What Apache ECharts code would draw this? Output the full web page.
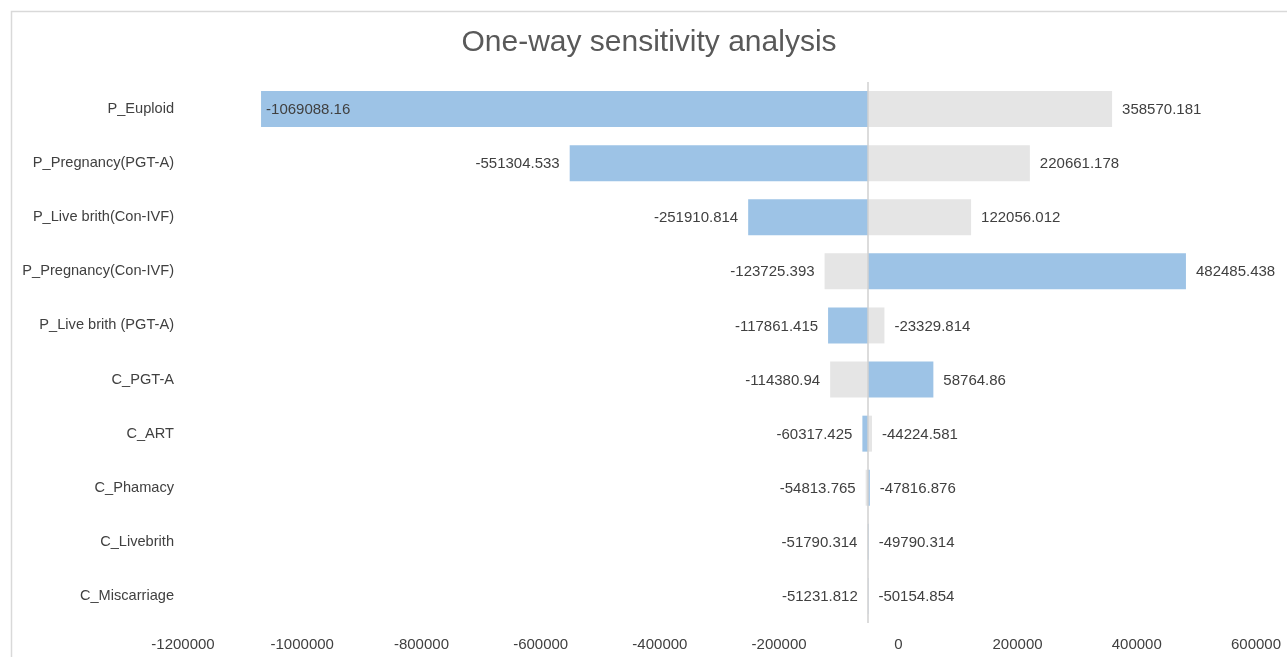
<!DOCTYPE html>
<html>
<head>
<meta charset="utf-8">
<script src="https://cdn.jsdelivr.net/npm/echarts@6/dist/echarts.min.js"></script>
<style>
  html, body { margin: 0; padding: 0; background: #fff; }
  #chart { width: 1287px; height: 657px; }
</style>
</head>
<body>
<div id="chart"></div>
<script>
// Parameters, top to bottom
const categories = [
  "P_Euploid",
  "P_Pregnancy(PGT-A)",
  "P_Live brith(Con-IVF)",
  "P_Pregnancy(Con-IVF)",
  "P_Live brith (PGT-A)",
  "C_PGT-A",
  "C_ART",
  "C_Phamacy",
  "C_Livebrith",
  "C_Miscarriage",
];
// Blue series and grey series (ICER at each end of the range)
const blueValues = [-1069088.16, -551304.533, -251910.814, 482485.438, -117861.415, 58764.86, -60317.425, -47816.876, -49790.314, -50154.854];
const greyValues = [358570.181, 220661.178, 122056.012, -123725.393, -23329.814, -114380.94, -44224.581, -54813.765, -51790.314, -51231.812];
const baseValue = -50790;
const axisMin = -1200000;
const axisMax = 600000;

const textColor = "#404040";
const fontFamily = "'Liberation Sans', Arial, Helvetica, sans-serif";
const fontSize = 15;

function makeRender(color) {
  return function (params, api) {
    let cat = api.value(0);
    let val = api.value(1);
    let p0 = api.coord([baseValue, cat]);
    let p1 = api.coord([val, cat]);
    let h = api.size([0, 1])[1] * 0.665;
    let left = val < baseValue;
    let label = String(val);
    let textW = label.length * 8.4;
    let minX = api.coord([axisMin, cat])[0];
    let tx, align;
    if (left) {
      if (p1[0] - 10 - textW < minX) {
        // not enough room, put it inside the bar
        tx = p1[0] + 5;
        align = "left";
      } else {
        tx = p1[0] - 10;
        align = "right";
      }
    } else {
      tx = p1[0] + 10;
      align = "left";
    }
    return {
      type: "group",
      children: [
        {
          type: "rect",
          shape: {
            x: Math.min(p0[0], p1[0]),
            y: p0[1] - h / 2,
            width: Math.abs(p1[0] - p0[0]),
            height: h,
          },
          style: { fill: color },
        },
        {
          type: "text",
          x: tx,
          y: p0[1] + 1,
          style: {
            text: label,
            align: align,
            verticalAlign: "middle",
            fill: textColor,
            font: fontSize + "px " + fontFamily,
          },
        },
      ],
    };
  };
}

let chart = echarts.init(document.getElementById("chart"));
let option = {
  animation: false,
  textStyle: { fontFamily: fontFamily },
  title: {
    text: "One-way sensitivity analysis",
    left: 644,
    textAlign: "center",
    top: 23,
    textStyle: {
      color: "#595959",
      fontSize: 30,
      fontWeight: "normal",
      fontFamily: fontFamily,
    },
  },
  graphic: [
    {
      type: "rect",
      left: 9,
      top: 9,
      shape: { width: 1300, height: 700 },
      style: { fill: "none", stroke: "#d9d9d9", lineWidth: 1.5 },
      silent: true,
    },
  ],
  grid: { left: 183, right: 31, top: 82, bottom: 34 },
  xAxis: {
    type: "value",
    min: axisMin,
    max: axisMax,
    interval: 200000,
    axisLine: { show: false },
    axisTick: { show: false },
    splitLine: { show: false },
    axisLabel: {
      color: textColor,
      fontSize: fontSize,
      margin: 14,
      formatter: (v) => String(v),
    },
  },
  yAxis: {
    type: "category",
    data: categories,
    inverse: true,
    axisLine: { show: false },
    axisTick: { show: false },
    axisLabel: {
      color: textColor,
      fontSize: 14.6,
      margin: 9,
      verticalAlign: "middle",
      padding: [4, 0, 0, 0],
    },
  },
  series: [
    {
      name: "grey",
      type: "custom",
      renderItem: makeRender("#e5e5e5"),
      encode: { y: 0, x: 1 },
      data: categories.map((c, i) => [i, greyValues[i]]),
      markLine: {
        silent: true,
        symbol: "none",
        animation: false,
        label: { show: false },
        lineStyle: { color: "#d0d0d0", type: "solid", width: 1.5 },
        data: [{ xAxis: baseValue }],
      },
    },
    {
      name: "blue",
      type: "custom",
      renderItem: makeRender("#9dc3e6"),
      encode: { y: 0, x: 1 },
      data: categories.map((c, i) => [i, blueValues[i]]),
    },
  ],
};
chart.setOption(option);
</script>
</body>
</html>
